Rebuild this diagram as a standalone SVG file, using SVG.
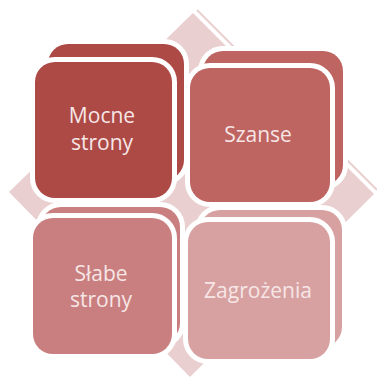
<svg xmlns="http://www.w3.org/2000/svg" width="377" height="379" viewBox="0 0 377 379">
  <style>
    .box { stroke: #FFFFFF; stroke-width: 10; paint-order: stroke; }
    .lbl { font-family: "Open Sans", "Liberation Sans", sans-serif; font-size: 21px; fill: #F6E6E6; text-anchor: middle; }
    .c1 { fill: #AD4A46; }
    .c2 { fill: #BE6461; }
    .c3 { fill: #C97F7F; }
    .c4 { fill: #D8A1A1; }
  </style>
  <rect width="377" height="379" fill="#FFFFFF"/>
  <g id="background">
    <polygon points="193,13 374,194 190,377 9,192" fill="#E9CFD0"/>
    <line x1="197" y1="10" x2="377" y2="190" stroke="#E9CFD0" stroke-width="2"/>
  </g>
  <g id="connectors"></g>
  <g id="node-zagrozenia">
    <rect class="box c4" x="200" y="210" width="142" height="137" rx="20"/>
    <rect class="box c4" x="188" y="222" width="142" height="137" rx="20"/>
    <text class="lbl" x="258" y="298">Zagrożenia</text>
  </g>
  <g id="node-slabe">
    <rect class="box c3" x="41" y="207" width="139" height="136" rx="20"/>
    <rect class="box c3" x="33" y="218" width="139" height="136" rx="20"/>
    <text class="lbl" x="101" y="281">Słabe</text>
    <text class="lbl" x="101" y="307">strony</text>
  </g>
  <g id="node-szanse">
    <rect class="box c2" x="203" y="51" width="140" height="134" rx="20"/>
    <rect class="box c2" x="190" y="68" width="140" height="134" rx="20"/>
    <text class="lbl" x="258" y="142">Szanse</text>
  </g>
  <g id="node-mocne">
    <rect class="box c1" x="48" y="44" width="136" height="136" rx="20"/>
    <rect class="box c1" x="35" y="62" width="137" height="136" rx="20"/>
    <text class="lbl" x="102" y="123">Mocne</text>
    <text class="lbl" x="102" y="150">strony</text>
  </g>
</svg>
